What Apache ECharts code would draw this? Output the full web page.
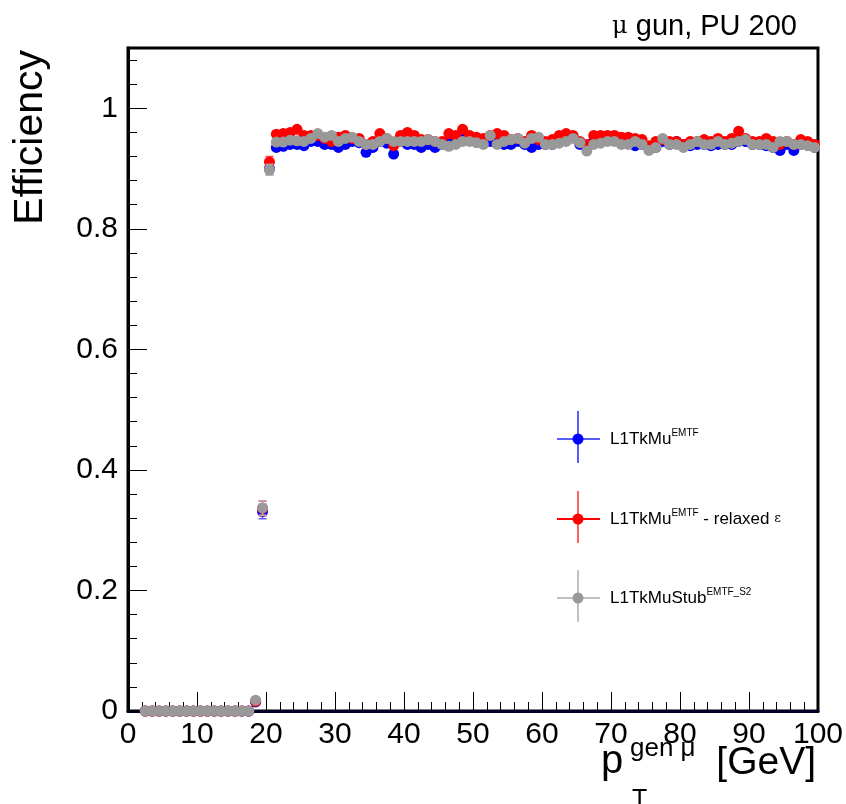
<!DOCTYPE html>
<html>
<head>
<meta charset="utf-8">
<script src="https://cdn.jsdelivr.net/npm/echarts@6/dist/echarts.min.js"></script>
<style>html,body{margin:0;padding:0;background:#fff;}#chart{width:846px;height:804px;}</style>
</head>
<body>
<div id="chart"></div>
<script>
// bin centres (GeV)
const binCenters = [2.5,3.5,4.5,5.5,6.5,7.5,8.5,9.5,10.5,11.5,12.5,13.5,14.5,15.5,16.5,17.5,18.5,19.5,20.5,
21.5,22.5,23.5,24.5,25.5,26.5,27.5,28.5,29.5,30.5,
31.5,32.5,33.5,34.5,35.5,36.5,37.5,38.5,39.5,40.5,
41.5,42.5,43.5,44.5,45.5,46.5,47.5,48.5,49.5,50.5,
51.5,52.5,53.5,54.5,55.5,56.5,57.5,58.5,59.5,60.5,
61.5,62.5,63.5,64.5,65.5,66.5,67.5,68.5,69.5,70.5,
71.5,72.5,73.5,74.5,75.5,76.5,77.5,78.5,79.5,80.5,
81.5,82.5,83.5,84.5,85.5,86.5,87.5,88.5,89.5,90.5,
91.5,92.5,93.5,94.5,95.5,96.5,97.5,98.5,99.5];

// L1TkMu^EMTF
const effTkMu = [0,0,0,0,0,0,0,0,0,0,0,0,0,0,0,0,0.015,0.331,0.900,
0.935,0.937,0.940,0.940,0.938,0.945,0.945,0.940,0.940,0.935,
0.940,0.945,0.943,0.927,0.935,0.945,0.942,0.924,0.945,0.940,
0.940,0.935,0.940,0.935,0.940,0.945,0.948,0.955,0.950,0.945,
0.945,0.945,0.945,0.940,0.940,0.945,0.940,0.935,0.940,0.940,
0.940,0.945,0.950,0.952,0.940,0.935,0.945,0.945,0.948,0.948,
0.945,0.943,0.938,0.940,0.935,0.935,0.945,0.940,0.945,0.940,
0.938,0.940,0.940,0.938,0.940,0.940,0.940,0.945,0.945,0.940,
0.940,0.938,0.935,0.930,0.940,0.930,0.940,0.940,0.935];

// L1TkMu^EMTF - relaxed eps
const effTkMuRelaxed = [0,0,0,0,0,0,0,0,0,0,0,0,0,0,0,0,0.016,0.336,0.911,
0.957,0.958,0.960,0.965,0.955,0.955,0.955,0.950,0.945,0.952,
0.955,0.950,0.950,0.940,0.945,0.958,0.950,0.938,0.955,0.960,
0.955,0.948,0.948,0.945,0.945,0.958,0.955,0.965,0.955,0.952,
0.950,0.955,0.958,0.955,0.948,0.950,0.945,0.955,0.948,0.945,
0.948,0.955,0.958,0.955,0.945,0.940,0.955,0.955,0.955,0.955,
0.952,0.952,0.950,0.948,0.938,0.945,0.948,0.945,0.945,0.940,
0.945,0.945,0.948,0.945,0.950,0.945,0.950,0.962,0.950,0.945,
0.945,0.950,0.945,0.940,0.945,0.940,0.948,0.945,0.940];

// L1TkMuStub^EMTF_S2
const effTkMuStub = [0,0,0,0,0,0,0,0,0,0,0,0,0,0,0,0,0.018,0.337,0.898,
0.944,0.944,0.947,0.946,0.945,0.950,0.958,0.952,0.955,0.945,
0.950,0.952,0.945,0.940,0.940,0.945,0.950,0.945,0.945,0.945,
0.945,0.945,0.948,0.945,0.940,0.937,0.940,0.945,0.945,0.943,
0.940,0.955,0.940,0.945,0.948,0.950,0.942,0.950,0.952,0.940,
0.940,0.942,0.945,0.950,0.943,0.929,0.940,0.942,0.945,0.945,
0.940,0.940,0.945,0.940,0.930,0.935,0.950,0.940,0.940,0.935,
0.940,0.945,0.940,0.940,0.945,0.940,0.942,0.945,0.948,0.940,
0.940,0.940,0.935,0.945,0.945,0.940,0.940,0.938,0.935];

// visible error bars on the turn-on bins
const errBins = [18.5, 19.5, 20.5];
const errTkMu = [0.004, 0.012, 0.009];
const errTkMuRelaxed = [0.004, 0.012, 0.009];
const errTkMuStub = [0.004, 0.012, 0.009];

const xTicks = [0,10,20,30,40,50,60,70,80,90,100];
const yTicks = [0,0.2,0.4,0.6,0.8,1];

const FONT = '"Liberation Sans", Arial, Helvetica, sans-serif';

function pts(vals){ return binCenters.map((x,i)=>[x, vals[i]]); }
function errSeries(vals, errs, color, z){
  const data = errBins.map((x,i)=>{ const idx = binCenters.indexOf(x); return [x, vals[idx], errs[i]]; });
  return {
    type:'custom', z:z, silent:true,
    renderItem:function(params, api){
      const x = api.value(0), y = api.value(1), e = api.value(2);
      const top = api.coord([x, y+e]);
      const bot = api.coord([x, y-e]);
      return {type:'group', children:[
        {type:'line', shape:{x1:top[0], y1:top[1], x2:bot[0], y2:bot[1]}, style:{stroke:color, lineWidth:1.5}},
        {type:'line', shape:{x1:top[0]-4, y1:top[1], x2:top[0]+4, y2:top[1]}, style:{stroke:color, lineWidth:1.5}},
        {type:'line', shape:{x1:bot[0]-4, y1:bot[1], x2:bot[0]+4, y2:bot[1]}, style:{stroke:color, lineWidth:1.5}}
      ]};
    },
    encode:{x:0, y:1},
    data:data
  };
}

const chart = echarts.init(document.getElementById('chart'), null, {renderer:'canvas'});

const legendItems = [
  {y:439, color:'#0000ff', hcol:'#5a5aff', vcol:'#5a5aff', text:'{a|L1TkMu}{s|EMTF}'},
  {y:519, color:'#ff0000', hcol:'#ff0000', vcol:'#ff6060', text:'{a|L1TkMu}{s|EMTF}{a| - relaxed }{e|ε}'},
  {y:598, color:'#999999', hcol:'#c0c0c0', vcol:'#c0c0c0', text:'{a|L1TkMuStub}{s|EMTF_S2}'}
];
const graphics = [];
legendItems.forEach(it=>{
  graphics.push({type:'line', shape:{x1:557, y1:it.y, x2:600, y2:it.y}, style:{stroke:it.hcol, lineWidth:2}, z:100});
  graphics.push({type:'line', shape:{x1:578, y1:it.y-28, x2:578, y2:it.y+24}, style:{stroke:it.vcol, lineWidth:2}, z:100});
  graphics.push({type:'circle', shape:{cx:578, cy:it.y, r:5.5}, style:{fill:it.color}, z:101});
  graphics.push({type:'text', x:610, y:it.y, z:101, style:{
    text:it.text, fill:'#000', align:'left', verticalAlign:'middle',
    rich:{
      a:{fontFamily:FONT, fontSize:17, lineHeight:22, fill:'#000'},
      s:{fontFamily:FONT, fontSize:10, lineHeight:10, verticalAlign:'top', fill:'#000'},
      e:{fontFamily:'"DejaVu Serif", serif', fontSize:13, lineHeight:22, fill:'#000'}
    }
  }});
});
// top-right text
graphics.push({type:'text', x:797, y:27, style:{text:'{m|μ}{t| gun, PU 200}', align:'right', verticalAlign:'middle',
  rich:{m:{fontFamily:'"DejaVu Serif", serif', fontSize:24, fill:'#000', lineHeight:30}, t:{fontFamily:FONT, fontSize:29, fill:'#000', lineHeight:30}}}});
// y axis title
graphics.push({type:'text', x:31, y:50, rotation:Math.PI/2, style:{text:'Efficiency', fontFamily:FONT, fontSize:41, fill:'#000', align:'right', verticalAlign:'middle'}});
// x axis title pieces
graphics.push({type:'text', x:601, y:762, style:{text:'p', fontFamily:FONT, fontSize:40, fill:'#000', align:'left', verticalAlign:'middle'}});
graphics.push({type:'text', x:630, y:749, style:{text:'gen μ', fontFamily:FONT, fontSize:26, fill:'#000', align:'left', verticalAlign:'middle'}});
graphics.push({type:'text', x:632, y:800, style:{text:'T', fontFamily:FONT, fontSize:25, fill:'#000', align:'left', verticalAlign:'middle'}});
graphics.push({type:'text', x:816, y:763, style:{text:'[GeV]', fontFamily:FONT, fontSize:39, fill:'#000', align:'right', verticalAlign:'middle'}});

const option = {
  animation:false,
  backgroundColor:'#fff',
  grid:{left:128, right:28, top:48, bottom:93, show:true, borderColor:'#000', borderWidth:3, backgroundColor:'transparent'},
  xAxis:{
    type:'value', min:0, max:100, interval:10,
    axisLine:{show:true, onZero:false, lineStyle:{color:'#00002a', width:3}},
    axisTick:{show:true, inside:true, length:19, lineStyle:{color:'#000', width:1}},
    minorTick:{show:true, splitNumber:5, length:9, lineStyle:{color:'#000', width:1}},
    splitLine:{show:false},
    axisLabel:{fontFamily:FONT, fontSize:30, color:'#000', margin:9,
      formatter:function(v){ return xTicks.indexOf(v)>=0 ? String(v) : ''; }}
  },
  yAxis:{
    type:'value', min:0, max:1.1, interval:0.2,
    axisLine:{show:true, onZero:false, lineStyle:{color:'#000', width:3}},
    axisTick:{show:true, inside:true, length:19, lineStyle:{color:'#000', width:1}},
    minorTick:{show:true, splitNumber:5, length:9, lineStyle:{color:'#000', width:1}},
    splitLine:{show:false},
    axisLabel:{fontFamily:FONT, fontSize:30, color:'#000', margin:10, showMaxLabel:false,
      formatter:function(v){ for (const t of yTicks){ if (Math.abs(v-t)<1e-6) return String(t); } return ''; }}
  },
  graphic:graphics,
  series:[
    errSeries(effTkMu, errTkMu, '#5a5aff', 2),
    {type:'scatter', name:'L1TkMu EMTF', data:pts(effTkMu), symbol:'circle', symbolSize:11, itemStyle:{color:'#0000ff', opacity:1}, z:3, silent:true},
    errSeries(effTkMuRelaxed, errTkMuRelaxed, '#ff5050', 4),
    {type:'scatter', name:'L1TkMu EMTF relaxed', data:pts(effTkMuRelaxed), symbol:'circle', symbolSize:11, itemStyle:{color:'#ff0000', opacity:1}, z:5, silent:true},
    errSeries(effTkMuStub, errTkMuStub, '#b0b0b0', 6),
    {type:'scatter', name:'L1TkMuStub EMTF_S2', data:pts(effTkMuStub), symbol:'circle', symbolSize:11, itemStyle:{color:'#999999', opacity:1}, z:7, silent:true}
  ]
};
chart.setOption(option);
</script>
</body>
</html>
